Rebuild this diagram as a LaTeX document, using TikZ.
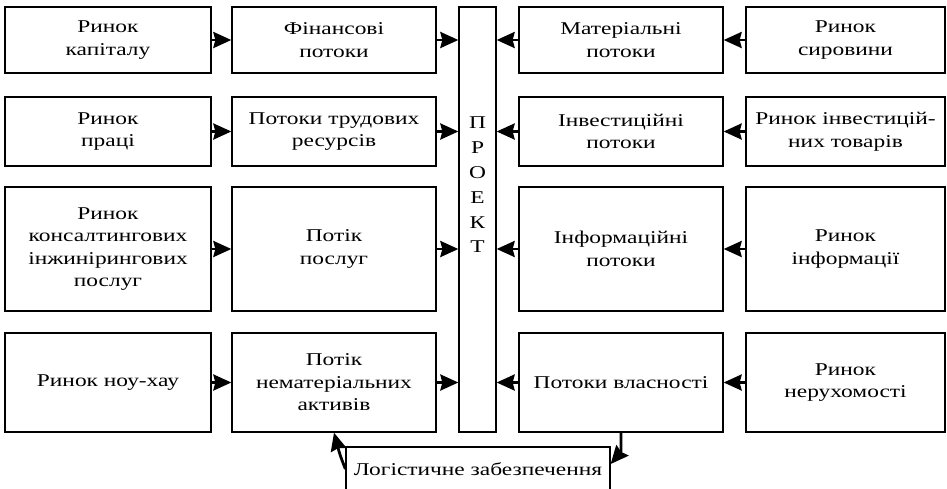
\documentclass[tikz,border=0pt]{standalone}
\usepackage{fontspec}
\setmainfont{Liberation Serif}[FakeStretch=1.3]
\usetikzlibrary{arrows.meta}
\begin{document}
\begin{tikzpicture}[x=1pt,y=-1pt,
 bx/.style={draw, line width=1.3pt, align=center, inner sep=0pt, font=\fontsize{18}{22.5}\selectfont},
 w1/.style={minimum width=206pt}, w2/.style={minimum width=204pt},
 w3/.style={minimum width=204pt}, w4/.style={minimum width=199pt},
 h1/.style={minimum height=66pt}, h2/.style={minimum height=69pt},
 h3/.style={minimum height=124pt}, h4/.style={minimum height=99pt},
 ar/.style={line width=2.8pt, -{Stealth[length=18pt,width=16pt,inset=2pt]}}]
\useasboundingbox (0,0) rectangle (947,488);
\clip (0,0) rectangle (947,488);
% row 1
\node[bx,w1,h1] (r1c1) at (108,40) {Ринок\\капіталу};
\node[bx,w2,h1] (r1c2) at (334,40) {Фінансові\\потоки};
\node[bx,w3,h1] (r1c3) at (621,40) {Матеріальні\\потоки};
\node[bx,w4,h1] (r1c4) at (845.5,40) {Ринок\\сировини};
% row 2
\node[bx,w1,h2] (r2c1) at (108,131.5) {Ринок\\праці};
\node[bx,w2,h2] (r2c2) at (334,131.5) {Потоки трудових\\ресурсів};
\node[bx,w3,h2] (r2c3) at (621,131.5) {Інвестиційні\\потоки};
\node[bx,w4,h2] (r2c4) at (845.5,131.5) {Ринок інвестицій-\\них товарів};
% row 3
\node[bx,w1,h3] (r3c1) at (108,249) {Ринок\\консалтингових\\інжинірингових\\послуг};
\node[bx,w2,h3] (r3c2) at (334,249) {Потік\\послуг};
\node[bx,w3,h3] (r3c3) at (621,249) {Інформаційні\\потоки};
\node[bx,w4,h3] (r3c4) at (845.5,249) {Ринок\\інформації};
% row 4
\node[bx,w1,h4] (r4c1) at (108,382.5) {Ринок ноу-хау};
\node[bx,w2,h4] (r4c2) at (334,382.5) {Потік\\нематеріальних\\активів};
\node[bx,w3,h4] (r4c3) at (621,382.5) {Потоки власності};
\node[bx,w4,h4] (r4c4) at (845.5,382.5) {Ринок\\нерухомості};
% project
\node[draw, line width=1.3pt, minimum width=37pt, minimum height=425pt, inner sep=0pt] (proj) at (477.5,219.5) {};
\node[align=center, inner sep=0pt, font=\fontsize{18}{24.8}\selectfont] (projtxt) at (477.5,185) {П\\Р\\О\\Е\\К\\Т};
% logistics
\node[bx, minimum width=264pt, minimum height=44pt] (log) at (478,469) {Логістичне забезпечення};
% arrows
\foreach \r in {1,2,3,4}{
  \draw[ar] (r\r c1.east) -- (r\r c2.west);
  \draw[ar] (r\r c2.east) -- (r\r c2.east -| proj.west);
  \draw[ar] (r\r c4.west) -- (r\r c3.east);
  \draw[ar] (r\r c3.west) -- (r\r c3.west -| proj.east);
}
\draw[ar] (log.west) .. controls (340,455) .. (r4c2.south);
\draw[ar] (r4c3.south) .. controls (621,452) .. ([yshift=5pt]log.east);
\end{tikzpicture}
\end{document}
